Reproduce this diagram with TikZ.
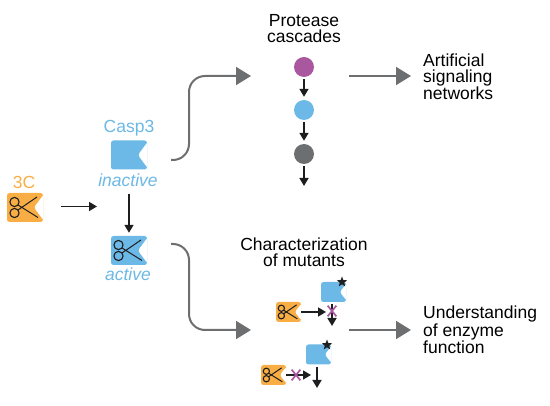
\documentclass[tikz,border=0pt]{standalone}
\usepackage{fontspec}
\setmainfont{Liberation Sans}
\usepackage{tikz}
\usetikzlibrary{arrows.meta,calc,shapes.geometric,shapes.misc}
\definecolor{enzblue}{RGB}{108,184,230}
\definecolor{enzorange}{RGB}{249,174,69}
\definecolor{enzpurple}{RGB}{169,88,159}
\definecolor{enzgray}{RGB}{109,110,112}
\definecolor{enzblack}{RGB}{30,30,32}
\tikzset{
  enzyme/.style={rounded corners=2.5pt,inner sep=0pt,minimum width=36pt,minimum height=29pt,
    path picture={\fill[white] ($(path picture bounding box.north east)+(1,1)$)
      -- ($(path picture bounding box.east)!.25!(path picture bounding box.west)$)
      -- ($(path picture bounding box.south east)+(1,-1)$) -- cycle;}},
  smallenz/.style={enzyme,minimum width=25pt,minimum height=20pt},
  cascade/.style={circle,inner sep=0pt,minimum size=20pt},
  blackarrow/.style={-{Triangle[length=8pt,width=9pt]},line width=1.7pt,draw=enzblack},
  grayarrow/.style={-{Triangle[length=15pt,width=18pt]},line width=2pt,draw=enzgray,rounded corners=16pt},
  mark star/.style={star,star points=5,star point ratio=2.4,fill=enzblack,inner sep=0pt,minimum size=11pt},
  nocut/.style={cross out,draw=enzpurple,line width=1.7pt,inner sep=0pt,minimum width=7pt,minimum height=9pt},
  label text/.style={align=center,inner sep=0pt},
  pics/scissors/.style={code={
    \draw[enzblack,line width=1.1pt] (-10.5,-5.5) circle (4.6) (-10.5,5.5) circle (4.6);
    \draw[enzblack,line width=1pt] (-7,-2.5) -- (13,10) (-7,2.5) -- (12,-10.5);
  }}
}
\begin{document}
\begin{tikzpicture}[x=1pt,y=-1pt,>=Latex,font=\fontsize{17.5}{16}\selectfont]
    \useasboundingbox (0,0) rectangle (550,406);
    % left column
    \node[label text,text=enzorange] (threeClabel) at (24,182) {3C};
    \node[enzyme,fill=enzorange] (threeC) at (25,207.5) {};
    \pic at (threeC) {scissors};
    \node[label text,text=enzblue] (casplabel) at (129,128) {Casp3};
    \node[enzyme,fill=enzblue] (casp) at (129,155) {};
    \node[label text,text=enzblue,font=\fontsize{17.5}{16}\selectfont\itshape] (inactive) at (128,180) {inactive};
    \node[enzyme,fill=enzblue] (active) at (129,250.5) {};
    \pic at (active) {scissors};
    \node[label text,text=enzblue,font=\fontsize{17.5}{16}\selectfont\itshape] (activelabel) at (128,274) {active};
    \coordinate (attack) at (97,206.5);
    \coordinate (turnon) at (129,194);
    \draw[blackarrow,shorten <=18pt] (threeC.east |- attack) -- (attack);
    \draw[blackarrow,shorten >=3pt] (turnon) -- (active.north);
    % cascade
    \node[label text] (cascadetext) at (304,29) {Protease\\cascades};
    \node[cascade,fill=enzpurple] (casca) at (304,67) {};
    \node[cascade,fill=enzblue] (cascb) at (304,110) {};
    \node[cascade,fill=enzgray] (cascc) at (304,154) {};
    \coordinate (cascend) at (304,186);
    \draw[blackarrow,shorten <=2pt,shorten >=3pt] (casca) -- (cascb);
    \draw[blackarrow,shorten <=2pt,shorten >=3pt] (cascb) -- (cascc);
    \draw[blackarrow,shorten <=2pt] (cascc) -- (cascend);
    \node[label text,align=left,anchor=west] (artificial) at (423,77) {Artificial\\signaling\\networks};
    % mutants
    \node[label text] (mutants) at (304,252) {Characterization\\of mutants};
    \node[smallenz,fill=enzorange] (cuta) at (288.5,312) {};
    \pic[scale=.68] at (cuta) {scissors};
    \node[smallenz,fill=enzblue] (muta) at (333.5,292) {};
    \node[mark star] (stara) at (342,282) {};
    \coordinate (cutaend) at (326,312);
    \coordinate (mutaend) at (332,326);
    \draw[blackarrow] (cuta.east) -- (cutaend);
    \draw[blackarrow,shorten <=2pt] (muta.south -| mutaend) -- (mutaend);
    \node[nocut] (xa) at (332,311) {};
    \node[smallenz,fill=enzorange] (cutb) at (273.5,375) {};
    \pic[scale=.68] at (cutb) {scissors};
    \node[smallenz,fill=enzblue] (mutb) at (318.5,354.5) {};
    \node[mark star] (starb) at (327,345) {};
    \coordinate (cutbend) at (311,375);
    \coordinate (mutbend) at (317,388);
    \draw[blackarrow,line width=1.2pt] (cutb.east) -- (cutbend);
    \node[nocut] (xb) at (296,375) {};
    \draw[blackarrow,shorten <=2pt] (mutb.south -| mutbend) -- (mutbend);
    \node[label text,align=left,anchor=west] (understanding) at (423,330) {Understanding\\of enzyme\\function};
    % gray connectors
    \coordinate (upstart) at (171,160);
    \coordinate (upend) at (251,76);
    \coordinate (downstart) at (171,244);
    \coordinate (downend) at (251,330);
    \coordinate (casout) at (349,76);
    \coordinate (casoutend) at (411,76);
    \coordinate (mutout) at (349,330);
    \coordinate (mutoutend) at (411,330);
    \draw[grayarrow] (upstart) -| (189,76) -- (upend);
    \draw[grayarrow] (downstart) -| (189,330) -- (downend);
    \draw[grayarrow] (casout) -- (casoutend);
    \draw[grayarrow] (mutout) -- (mutoutend);
  \end{tikzpicture}
\end{document}
